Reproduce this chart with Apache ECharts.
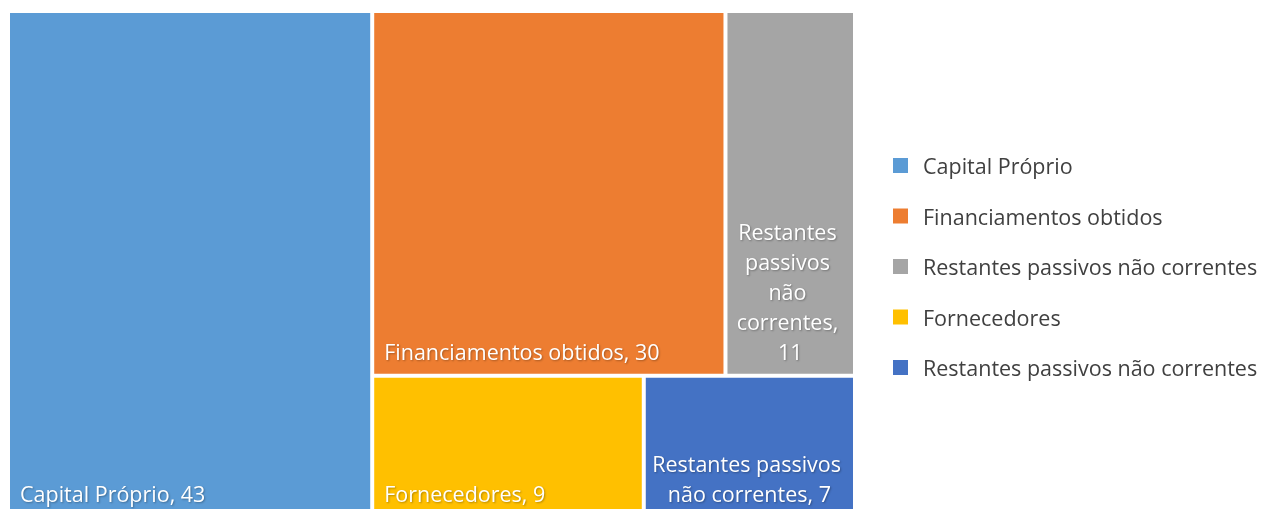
<!DOCTYPE html>
<html>
<head>
<meta charset="utf-8">
<script src="https://cdn.jsdelivr.net/npm/echarts@6/dist/echarts.min.js"></script>
<style>
html, body { margin: 0; padding: 0; background: #fff; }
#main { width: 1262px; height: 509px; }
</style>
</head>
<body>
<div id="main"></div>
<script>
var categories = ['Capital Próprio', 'Financiamentos obtidos', 'Restantes passivos não correntes', 'Fornecedores', 'Restantes passivos não correntes'];
var values = [43, 30, 11, 9, 7];
var colors = ['#5B9BD5', '#ED7D31', '#A5A5A5', '#FFC000', '#4472C4'];
// tiles where Excel wraps and centres the label
var centred = [false, false, true, false, true];
// Excel's layout: first tile as a column, then two rows of two
var layoutGroups = [[0], [[1, 2], [3, 4]]];

var myChart = echarts.init(document.getElementById('main'));

function leaf(i) {
    var node = {
        name: categories[i],
        value: values[i],
        itemStyle: { color: colors[i] }
    };
    if (centred[i]) {
        node.label = { position: 'insideBottom', align: 'center', overflow: 'break', padding: [0, 4, 5, 4] };
    }
    return node;
}

function group(children) {
    var sum = 0;
    children.forEach(function (c) { sum += c.value; });
    return {
        name: '',
        value: sum,
        children: children,
        itemStyle: { color: '#fff', gapWidth: 4, borderWidth: 0 },
        label: { show: false }
    };
}

var treeData = [
    leaf(layoutGroups[0][0]),
    group(layoutGroups[1].map(function (row) {
        return group(row.map(leaf));
    }))
];

var legendItems = [];
categories.forEach(function (name, i) {
    var y = 165.5 + i * 50.5;
    legendItems.push({
        type: 'rect',
        shape: { x: 893, y: y - 7.5, width: 15, height: 15 },
        style: { fill: colors[i] }
    });
    legendItems.push({
        type: 'text',
        x: 923,
        y: y + 2.5,
        style: {
            text: name,
            fill: '#404040',
            font: '21.5px "Open Sans"',
            verticalAlign: 'middle'
        }
    });
});

var option = {
    animation: false,
    series: [{
        type: 'treemap',
        left: 10,
        top: 13,
        width: 843,
        height: 503,
        sort: false,
        roam: false,
        nodeClick: false,
        breadcrumb: { show: false },
        itemStyle: { gapWidth: 4, borderWidth: 0, borderColor: '#fff' },
        label: {
            show: true,
            position: 'insideBottomLeft',
            formatter: '{b}, {c}',
            color: '#fff',
            fontFamily: 'Open Sans',
            fontSize: 21.5,
            lineHeight: 30,
            padding: [0, 8, 5, 10],
            textShadowColor: 'rgba(0,0,0,0.3)',
            textShadowBlur: 2,
            textShadowOffsetX: 1,
            textShadowOffsetY: 1
        },
        data: treeData
    }],
    graphic: legendItems
};

myChart.setOption(option);
</script>
</body>
</html>
